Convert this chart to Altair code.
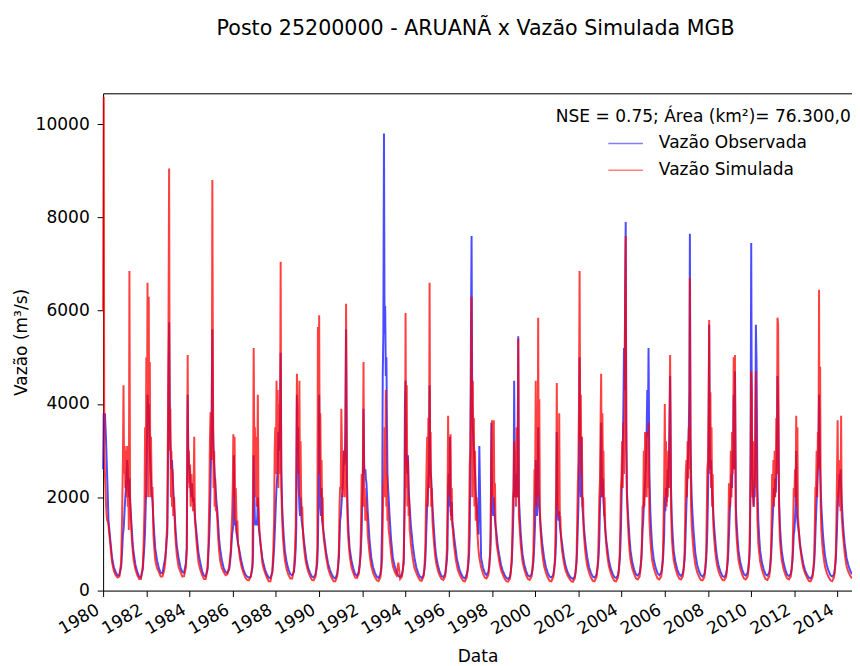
import altair as alt
import pandas as pd

# Sampling days within each year (month-day)
DAYS = ["01-01", "01-11", "01-21", "02-01", "02-11", "02-21", "03-01", "03-11", "03-21",
        "04-01", "04-16", "05-01", "05-16", "06-01", "07-01", "08-01", "09-01", "10-01",
        "11-01", "11-16", "12-01", "12-11", "12-21"]

YEARS = list(range(1980, 2015))

# Vazão Observada (m³/s), one row per year, values at DAYS
OBS = [
    [2600, 3800, 3700, 3800, 3500, 3200, 2800, 2400, 2000, 1500, 1300, 1100, 900, 700, 500, 400, 320, 330, 500, 800, 1200, 1300, 1500],
    [1800, 2000, 2200, 2500, 2800, 2600, 2200, 2000, 2400, 1900, 1600, 1300, 1000, 800, 550, 400, 300, 280, 450, 700, 1000, 1300, 1800],
    [2200, 3200, 4200, 3800, 4000, 3400, 3000, 2700, 2400, 2100, 1900, 1500, 1200, 900, 650, 480, 380, 370, 600, 700, 900, 1100, 1200],
    [2500, 4500, 5750, 4000, 3200, 2800, 2600, 2800, 2500, 2200, 1800, 1500, 1200, 950, 700, 500, 400, 380, 600, 900, 4200, 3000, 2700],
    [2600, 2400, 2200, 2000, 2300, 2100, 1900, 2000, 1800, 1600, 1400, 1200, 1000, 800, 600, 420, 320, 300, 450, 800, 1200, 1600, 2200],
    [3000, 4000, 5600, 3500, 3000, 2700, 2500, 2300, 2100, 1900, 1700, 1400, 1100, 900, 650, 480, 400, 380, 450, 600, 800, 1000, 1200],
    [1300, 1400, 2900, 1500, 1400, 1500, 1300, 1200, 1100, 1000, 900, 800, 700, 600, 450, 350, 300, 280, 300, 400, 500, 800, 2900],
    [2000, 1500, 1400, 1500, 1400, 1600, 2000, 1500, 1300, 1200, 1000, 850, 700, 600, 450, 350, 280, 270, 400, 600, 900, 1200, 1500],
    [1900, 2200, 2400, 2600, 3400, 3000, 3200, 3800, 5100, 2600, 1800, 1400, 1100, 850, 600, 450, 350, 330, 400, 600, 900, 1400, 4200],
    [2500, 3500, 2200, 1800, 1600, 2000, 1700, 1500, 1400, 1300, 1100, 950, 800, 650, 480, 380, 300, 280, 350, 450, 600, 1000, 2000],
    [4200, 2500, 1800, 1600, 2200, 1500, 1400, 1300, 1200, 1100, 950, 800, 700, 580, 450, 350, 280, 260, 350, 500, 700, 1100, 1500],
    [1600, 1800, 2000, 2200, 2500, 3000, 2700, 2800, 3500, 5600, 2400, 1600, 1200, 900, 650, 480, 350, 320, 400, 550, 750, 1000, 1300],
    [2000, 2400, 3900, 2700, 2500, 2600, 2400, 2300, 2000, 1700, 1400, 1100, 900, 700, 500, 380, 300, 270, 350, 500, 1500, 4600, 5500],
    [9800, 5500, 6100, 4600, 5000, 3500, 2500, 2200, 2000, 1700, 1400, 1100, 900, 700, 520, 400, 310, 290, 350, 450, 600, 1500, 4000],
    [4500, 3000, 2700, 2500, 2900, 2300, 2000, 1800, 1600, 1400, 1200, 1000, 850, 700, 500, 380, 300, 270, 330, 450, 650, 1000, 1400],
    [1800, 2000, 2300, 2600, 4400, 2800, 2500, 2400, 2100, 1800, 1500, 1200, 950, 750, 550, 400, 310, 290, 350, 480, 650, 900, 2200],
    [2500, 1800, 3300, 1700, 1600, 1900, 1500, 1400, 1300, 1150, 1000, 850, 700, 600, 450, 350, 280, 260, 350, 450, 600, 800, 1200],
    [3000, 5700, 7600, 4000, 3500, 3200, 3000, 2700, 2500, 2100, 1800, 1500, 1200, 3100, 700, 500, 380, 330, 400, 550, 800, 1100, 3600],
    [2000, 1800, 1600, 2000, 1700, 1500, 1400, 1300, 1200, 1050, 900, 780, 680, 560, 430, 340, 270, 250, 300, 420, 600, 900, 1300],
    [1800, 4500, 2500, 2000, 2200, 2500, 2000, 2800, 5450, 2000, 1600, 1250, 1000, 780, 560, 420, 320, 300, 350, 450, 600, 800, 1100],
    [1500, 2800, 1800, 1600, 2000, 3500, 2200, 1800, 1600, 1400, 1200, 1000, 850, 700, 500, 380, 300, 280, 330, 450, 600, 800, 1100],
    [3400, 1800, 1600, 1500, 1700, 1400, 1300, 1200, 1100, 1000, 850, 720, 620, 520, 400, 320, 270, 250, 300, 420, 600, 900, 1300],
    [1800, 2500, 5000, 2600, 2000, 3300, 2200, 1800, 1600, 1400, 1200, 1000, 850, 700, 500, 380, 300, 280, 330, 450, 600, 800, 1100],
    [1800, 2200, 3600, 2500, 2000, 2400, 1900, 1700, 1500, 1300, 1100, 950, 800, 650, 480, 370, 290, 270, 330, 450, 650, 900, 1300],
    [2000, 2500, 3000, 4000, 5200, 4300, 6300, 7900, 3500, 2100, 1700, 1400, 1100, 850, 600, 450, 350, 320, 380, 500, 700, 950, 1300],
    [1500, 1800, 2100, 2300, 2600, 3000, 3500, 4300, 3300, 5200, 2500, 1700, 1300, 950, 650, 480, 370, 330, 380, 500, 650, 900, 1200],
    [2000, 1700, 2200, 1900, 2300, 2600, 2200, 2800, 3500, 4600, 2200, 1500, 1150, 850, 600, 450, 350, 310, 370, 480, 650, 900, 1300],
    [1800, 2200, 2600, 3000, 3500, 4300, 7650, 3300, 2500, 2000, 1600, 1300, 1050, 800, 560, 420, 330, 300, 350, 470, 650, 900, 1300],
    [2000, 3000, 5700, 3200, 2600, 2800, 2400, 2100, 1900, 1600, 1350, 1100, 900, 720, 520, 400, 310, 290, 340, 460, 620, 850, 1200],
    [1600, 1900, 2200, 2500, 2200, 3000, 2600, 4200, 2600, 4700, 1800, 1400, 1100, 850, 600, 450, 350, 320, 380, 500, 700, 1000, 3000],
    [7450, 3500, 2500, 2000, 1800, 2200, 2000, 3000, 5700, 4900, 2200, 1500, 1150, 850, 600, 450, 350, 320, 380, 500, 700, 950, 1300],
    [1600, 1900, 2200, 2000, 2400, 2100, 2500, 3000, 4600, 4000, 2000, 1400, 1100, 850, 600, 450, 340, 310, 360, 480, 650, 900, 1200],
    [1300, 1500, 1800, 3000, 1700, 1500, 1400, 1300, 1200, 1050, 900, 780, 680, 570, 430, 340, 280, 260, 320, 450, 600, 850, 1200],
    [1600, 1900, 2300, 2600, 3000, 4200, 3500, 2600, 2200, 1800, 1450, 1150, 950, 750, 550, 420, 330, 300, 350, 470, 650, 950, 1300],
    [1800, 2000, 2200, 2500, 2300, 2600, 2200, 1900, 1700, 1450, 1200, 1000, 850, 700, 550, 430, 350],
]

# Vazão Simulada MGB (m³/s)
SIM = [
    [6000, 10580, 3000, 2500, 2200, 1800, 1600, 1500, 1500, 1400, 1200, 1000, 800, 600, 420, 330, 280, 300, 600, 1500, 2800, 4400, 2500],
    [3100, 2200, 3000, 2000, 3100, 1800, 2600, 1300, 6850, 2000, 1500, 1100, 850, 650, 450, 330, 250, 250, 500, 1000, 1800, 3500, 2000],
    [5000, 3000, 6600, 2000, 6300, 2500, 4900, 2000, 3300, 2200, 2200, 1200, 900, 650, 480, 400, 300, 300, 450, 600, 900, 1200, 1400],
    [3500, 5700, 9050, 3000, 3900, 2000, 3000, 1800, 2600, 1600, 2000, 1300, 1000, 750, 500, 400, 300, 310, 500, 900, 5050, 2300, 3000],
    [2200, 2700, 1800, 2500, 2000, 2200, 1700, 2300, 3300, 1500, 1300, 1000, 800, 600, 450, 330, 250, 250, 500, 1000, 2000, 3200, 3800],
    [3800, 2800, 8800, 4300, 2200, 3000, 1800, 2400, 1700, 1800, 1500, 1100, 850, 650, 480, 400, 330, 350, 500, 700, 900, 1300, 1600],
    [2200, 3350, 2000, 3300, 1500, 2200, 1800, 1200, 1500, 1000, 900, 700, 600, 500, 380, 280, 230, 220, 300, 400, 600, 2500, 5200],
    [3000, 3500, 2000, 3300, 1800, 2600, 4200, 2000, 1500, 1200, 1000, 800, 600, 500, 380, 280, 200, 200, 400, 800, 1500, 3000, 3500],
    [2500, 4500, 3000, 4300, 2200, 4000, 2500, 3500, 7050, 2200, 1500, 1100, 850, 650, 450, 330, 260, 260, 450, 800, 1400, 2800, 4650],
    [3000, 4000, 2500, 4500, 2000, 3200, 2200, 1600, 1800, 1300, 1000, 800, 650, 550, 400, 300, 230, 220, 300, 500, 900, 5650, 3000],
    [5900, 2500, 3800, 2000, 2800, 1500, 2000, 1300, 1100, 1000, 850, 700, 600, 480, 360, 270, 200, 200, 300, 500, 900, 1800, 2200],
    [2200, 3900, 3000, 2000, 2800, 2200, 3000, 2000, 3200, 6150, 2000, 1300, 1000, 750, 500, 380, 280, 270, 350, 500, 800, 1500, 2500],
    [1800, 2800, 4900, 1800, 2200, 1500, 2000, 1500, 1700, 1200, 1000, 800, 650, 520, 380, 290, 220, 200, 280, 450, 700, 1500, 2300],
    [2300, 3500, 2000, 4300, 1800, 2500, 1500, 1800, 1300, 1200, 1000, 800, 650, 520, 400, 330, 600, 250, 300, 450, 700, 1500, 2000],
    [5950, 2200, 4400, 1800, 2800, 1600, 2000, 1300, 1200, 1000, 850, 700, 580, 480, 380, 290, 220, 210, 300, 500, 900, 1800, 2600],
    [3300, 1800, 3700, 2200, 6600, 2500, 3400, 1800, 2200, 1500, 1200, 950, 750, 600, 430, 320, 250, 230, 300, 500, 900, 1700, 3750],
    [2200, 3100, 2000, 3350, 1500, 2200, 1400, 1300, 1100, 950, 800, 650, 550, 450, 350, 270, 210, 200, 280, 450, 800, 1600, 2700],
    [3000, 4400, 6300, 2000, 4500, 2500, 3700, 1800, 3000, 1500, 2000, 1200, 900, 700, 500, 370, 280, 260, 330, 500, 800, 1500, 3000],
    [3650, 2000, 2800, 3650, 1800, 2300, 1500, 1200, 1000, 900, 780, 650, 550, 450, 350, 260, 200, 190, 250, 400, 700, 1200, 2000],
    [2200, 3200, 2000, 3000, 1800, 3500, 2000, 2500, 5400, 1600, 1300, 1000, 800, 620, 450, 330, 250, 230, 300, 450, 800, 1500, 2600],
    [2500, 4500, 1800, 3200, 2000, 5850, 2500, 4100, 1800, 1300, 1000, 800, 650, 520, 380, 280, 210, 200, 280, 420, 700, 1300, 2200],
    [4450, 1800, 2600, 1600, 3800, 1500, 1600, 1200, 1000, 850, 720, 600, 500, 420, 330, 260, 200, 190, 260, 400, 700, 1400, 2200],
    [2800, 4000, 6850, 3200, 4200, 2500, 3300, 1800, 2000, 1300, 1000, 800, 650, 520, 380, 280, 210, 200, 280, 420, 700, 1300, 2000],
    [2400, 3600, 4650, 2000, 3800, 2400, 3000, 1600, 2000, 1300, 1000, 800, 650, 520, 380, 280, 210, 200, 280, 420, 800, 1400, 2200],
    [2500, 3200, 2200, 3600, 2500, 4000, 6300, 7600, 3000, 2000, 1500, 1100, 850, 650, 470, 350, 260, 240, 300, 450, 700, 1100, 1800],
    [1800, 3000, 1800, 3400, 2000, 2800, 2000, 3400, 2200, 3600, 1500, 1100, 850, 650, 470, 350, 260, 240, 300, 450, 800, 1500, 2300],
    [4000, 2000, 3200, 1800, 2800, 2000, 3000, 2200, 3400, 5050, 1800, 1100, 850, 650, 470, 340, 260, 240, 300, 450, 800, 1500, 2500],
    [2800, 2000, 3200, 2400, 3500, 2600, 6700, 3300, 1800, 1400, 1100, 850, 700, 550, 400, 300, 230, 220, 290, 430, 800, 1600, 2600],
    [2800, 4000, 5800, 2500, 4250, 2200, 3500, 1800, 2500, 1400, 1100, 850, 700, 550, 400, 300, 230, 220, 290, 430, 800, 1400, 2300],
    [2200, 1800, 3000, 2000, 3400, 2500, 3200, 5000, 2600, 5050, 1500, 1100, 850, 650, 470, 340, 260, 240, 300, 450, 800, 1500, 2500],
    [4700, 4250, 2000, 3200, 1800, 2800, 2200, 3500, 4700, 3000, 1500, 1000, 800, 620, 450, 330, 250, 230, 300, 450, 800, 1500, 2500],
    [2000, 2800, 1800, 3000, 2000, 2600, 3700, 2500, 5850, 5700, 1800, 1100, 850, 650, 470, 340, 260, 240, 300, 450, 800, 1400, 2200],
    [2000, 2600, 2000, 3750, 1800, 3500, 1600, 1400, 1200, 1000, 850, 700, 580, 480, 370, 280, 210, 200, 280, 420, 750, 1400, 2200],
    [2200, 3000, 2000, 3400, 2600, 6450, 2600, 4800, 1800, 1300, 1000, 800, 650, 520, 380, 290, 220, 200, 280, 450, 800, 1500, 2400],
    [3650, 2000, 2800, 1800, 2400, 1700, 3750, 1600, 1400, 1200, 1000, 800, 650, 520, 400, 320, 260],
]

SERIES = ["Vazão Observada", "Vazão Simulada"]
COLORS = ["#0000ff", "#ff0000"]
X_TICK_YEARS = list(range(1980, 2016, 2))
Y_TICKS = [0, 2000, 4000, 6000, 8000, 10000]

rows = []
for name, table in zip(SERIES, [OBS, SIM]):
    for year, vals in zip(YEARS, table):
        for md, v in zip(DAYS, vals):
            rows.append({"data": f"{year}-{md}", "vazao": v, "serie": name})
df = pd.DataFrame(rows)

FONT = "DejaVu Sans"
FS = 17.2
xscale = alt.Scale(domain=[alt.DateTime(year=1980, month=1, date=1),
                           alt.DateTime(year=2014, month=9, date=1)])
yscale = alt.Scale(domain=[0, 10660], nice=False)
cscale = alt.Scale(domain=SERIES, range=COLORS)

x_bottom = alt.Axis(
    orient="bottom", title="Data",
    values=[alt.DateTime(year=y, month=1, date=1) for y in X_TICK_YEARS],
    format="%Y", labelAngle=330, labelAlign="right", labelBaseline="top",
    labelOffset=-10, labelFontSize=FS, labelColor="black", tickSize=6,
    tickColor="black", domainColor="black", labelPadding=4,
    titleFontSize=FS, titleFontWeight="normal", titleColor="black",
    titlePadding=11, grid=False, labelFont=FONT, titleFont=FONT,
    labelOverlap=False, labelFlush=False,
)
x_top = alt.Axis(orient="top", labels=False, ticks=False, title=None,
                 domain=True, domainColor="black", grid=False)
y_axis = alt.Axis(
    title="Vazão (m³/s)", values=Y_TICKS, format="d", labelFontSize=FS,
    labelColor="black", tickSize=6, tickColor="black", domainColor="black",
    labelPadding=8, titleFontSize=FS, titleFontWeight="normal",
    titleColor="black", titlePadding=5, grid=False, labelFont=FONT,
    titleFont=FONT,
)

legend = alt.Legend(
    title="NSE = 0.75; Área (km²)= 76.300,0", orient="none",
    legendX=457, legendY=15, padding=0,
    titleFontSize=FS, titleFontWeight="normal", titleColor="black",
    titleFont=FONT, titleLimit=1000, titlePadding=0,
    labelFontSize=FS, labelColor="black", labelFont=FONT, labelLimit=1000,
    symbolType="stroke", symbolSize=1225, symbolStrokeWidth=1.5,
    symbolOffset=52, labelOffset=15, rowPadding=0, symbolOpacity=0.5,
)

LW = 2.0
base = alt.Chart(df)
obs = base.transform_filter(alt.datum.serie == SERIES[0]).mark_line(
    strokeWidth=LW, opacity=0.7
).encode(
    x=alt.X("data:T", scale=xscale, axis=x_bottom),
    y=alt.Y("vazao:Q", scale=yscale, axis=y_axis),
    color=alt.Color("serie:N", scale=cscale, legend=legend),
)
sim = base.transform_filter(alt.datum.serie == SERIES[1]).mark_line(
    strokeWidth=LW, opacity=0.75
).encode(
    x=alt.X("data:T", scale=xscale, axis=x_top),
    y=alt.Y("vazao:Q", scale=yscale, axis=y_axis),
    color=alt.Color("serie:N", scale=cscale, legend=legend),
)

chart = alt.layer(obs, sim).resolve_axis(x="independent").properties(
    width=756, height=502,
    title=alt.TitleParams(
        "Posto 25200000 - ARUANÃ x Vazão Simulada MGB", fontSize=20.8,
        font=FONT, fontWeight="normal", color="black", anchor="middle",
        offset=54, dx=-2,
    ),
    autosize=alt.AutoSizeParams(type="none"),
    padding={"left": 96, "top": 83, "right": 0, "bottom": 72},
).configure_view(stroke=None).configure(background="white")

chart.save("out.html", embed_options={"renderer": "svg", "actions": False})
